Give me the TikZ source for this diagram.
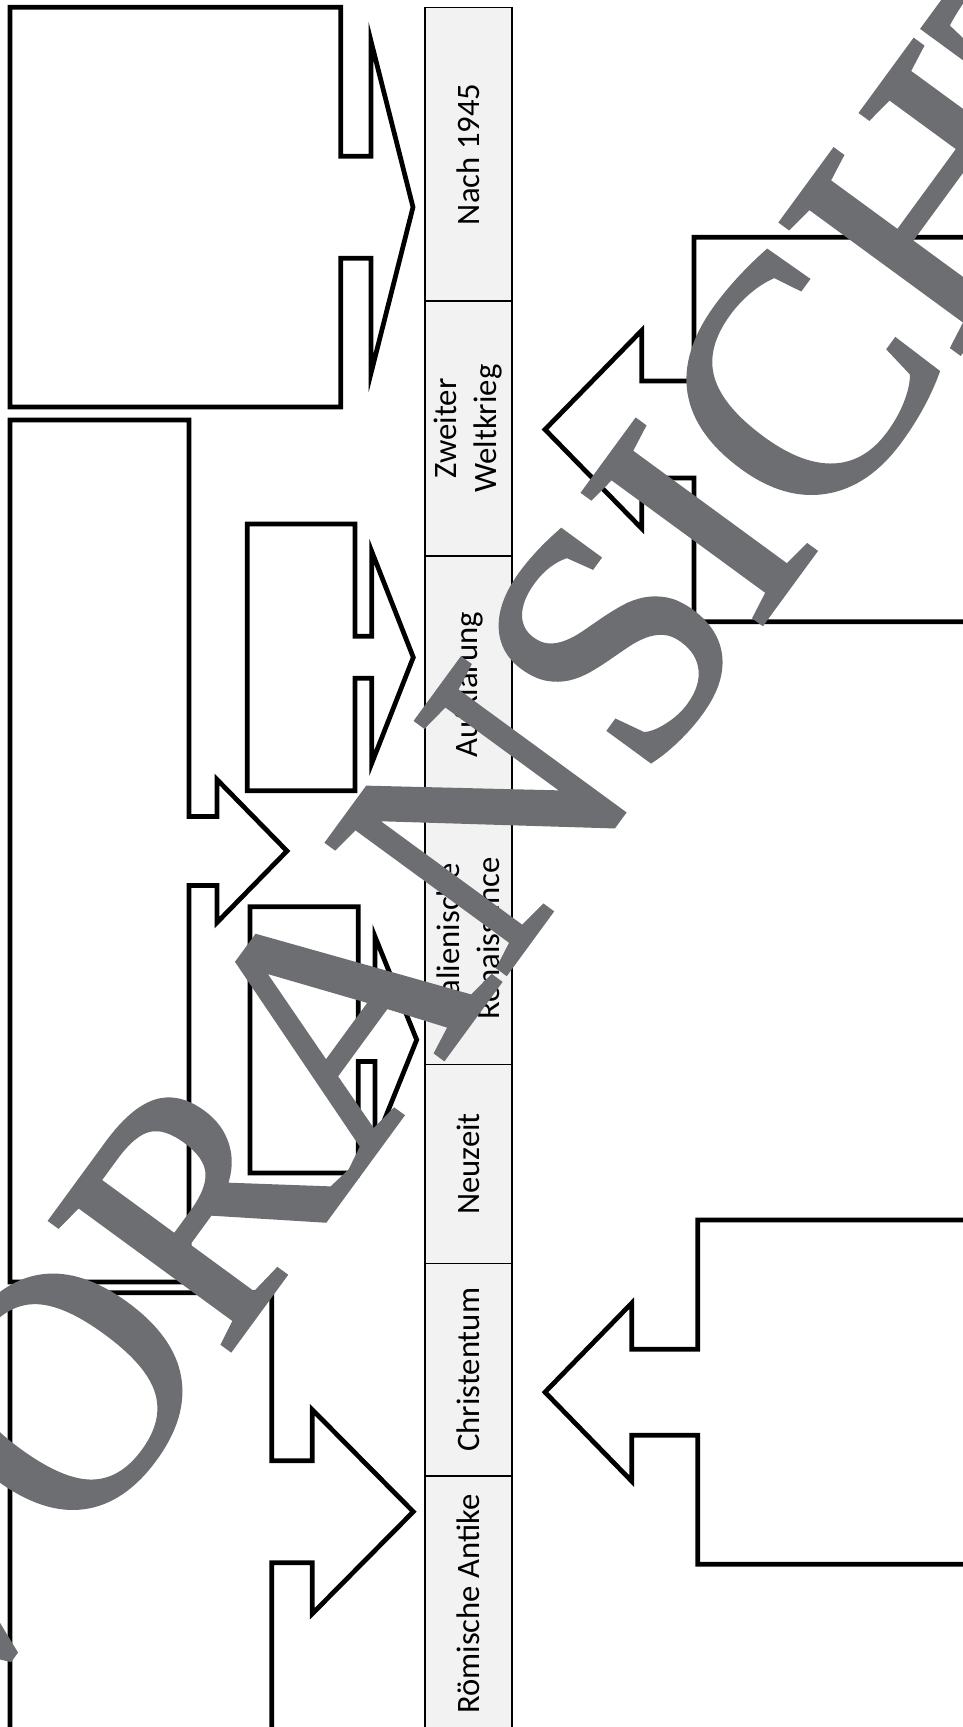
\documentclass[tikz,border=0pt]{standalone}
\usepackage{fontspec}
\setsansfont{Carlito}
\newfontfamily\wzfont[FakeBold=1.5]{Liberation Serif}
\usepackage{tikz}
\usetikzlibrary{positioning}
\usepackage{xcolor}
\definecolor{ZeitGrau}{RGB}{242,242,242}
\definecolor{WasserGrau}{RGB}{109,110,114}

% Kasten mit Pfeil: {aussen x}{y oben}{innen x}{y unten}{Schaft x}{Spitze x}{Schaft halb}{Kopf halb}
\newcommand{\Pfeilkasten}[8]{%
  \draw[kasten] (#1,#2) -- (#3,#2) -- (#3,{(#2+#4)/2-#7}) -- (#5,{(#2+#4)/2-#7})
    -- (#5,{(#2+#4)/2-#8}) -- (#6,{(#2+#4)/2}) -- (#5,{(#2+#4)/2+#8})
    -- (#5,{(#2+#4)/2+#7}) -- (#3,{(#2+#4)/2+#7}) -- (#3,#4) -- (#1,#4) -- cycle;}

\begin{document}
\begin{tikzpicture}[x=0.2mm, y=-0.2mm,
  kasten/.style={draw=black, line width=2.7pt, fill=white, line join=miter},
  zelle/.style={rectangle, rotate=90, draw=black, line width=0.7pt, fill=ZeitGrau, minimum height=17.4mm, inner sep=0pt, align=center, font=\sffamily\fontsize{18.6}{22.7}\selectfont}]
  \useasboundingbox (0,0) rectangle (963,1727);
  \clip (0,0) rectangle (963,1727);

  % Pfeile links der Zeitleiste
  \Pfeilkasten{10}{7.3}{340.7}{407}{371}{413}{51}{166}
  \Pfeilkasten{10}{420}{189}{1282}{217}{287}{34.5}{71.5}
  \Pfeilkasten{247.3}{524}{355}{790.7}{371.7}{413.3}{21}{106}
  \Pfeilkasten{250}{906.7}{358.3}{1173}{375}{416.7}{21.7}{103.3}
  \Pfeilkasten{10}{1292.7}{271.7}{1730.7}{312.3}{413.3}{51}{102}
  % Pfeile rechts
  \Pfeilkasten{1000}{237.3}{694}{621.7}{641.7}{545}{48.5}{99}
  \Pfeilkasten{1000}{1220}{697.7}{1564.3}{631.7}{545}{43}{89}

  % Zeitleiste
  \node[zelle, minimum width=58.66mm] (z1) at (468.5,154.4) {Nach 1945};
  \node[zelle, minimum width=51mm] (z2) at (468.5,428.5) {Zweiter\\Weltkrieg};
  \node[zelle, minimum width=51.4mm] (z3) at (468.5,684.5) {Aufklärung};
  \node[zelle, minimum width=50.3mm] (z4) at (468.5,938.75) {Italienische\\Renaissance};
  \node[zelle, minimum width=39.8mm] (z5) at (468.5,1164) {Neuzeit};
  \node[zelle, minimum width=42.5mm] (z6) at (468.5,1369.75) {Christentum};
  \node[zelle, minimum width=51.2mm] (z7) at (468.5,1604) {Römische Antike};

  % Wasserzeichen
  \node[rotate=53.8, inner sep=0pt, text=WasserGrau, font=\wzfont\fontsize{192}{192}\selectfont] (wz) at (490,810) {VORANSICHT};
\end{tikzpicture}
\end{document}
